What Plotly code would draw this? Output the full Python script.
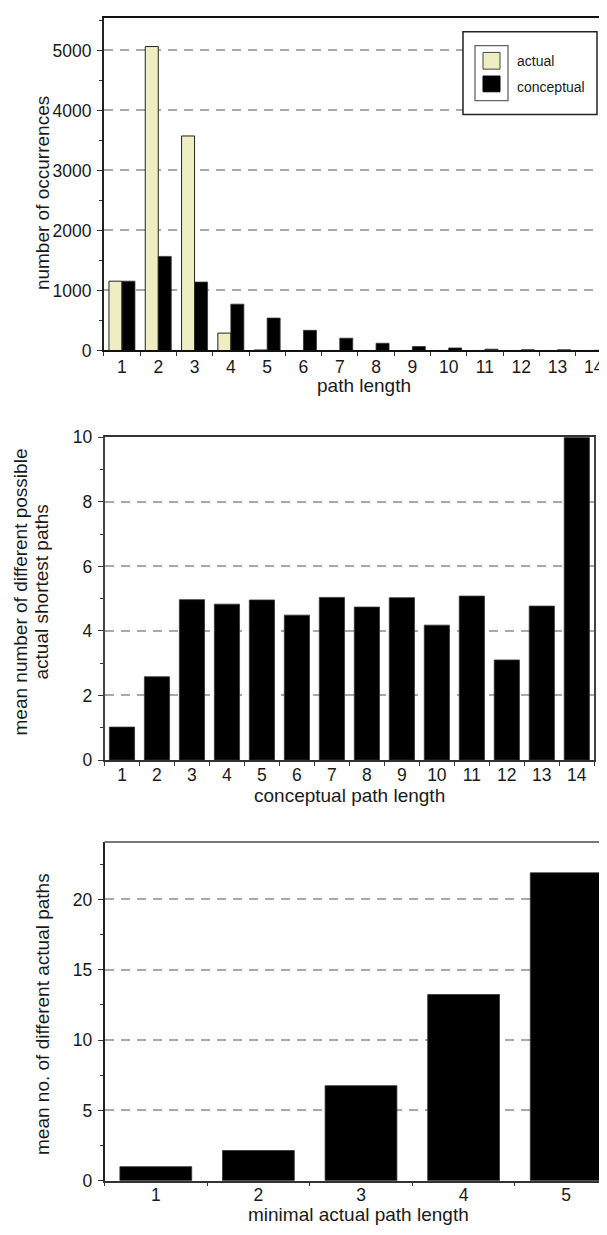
import plotly.graph_objects as go

# The page body keeps its default 8px margin, so the figure is drawn 8px
# smaller and every reference-pixel position is shifted by that offset.
SCREEN_W, SCREEN_H = 607, 1235
OFF = 8
W, H = SCREEN_W - OFF, SCREEN_H - OFF

# ---------------- data ----------------
# Panel 1: number of occurrences by path length
path_length = list(range(1, 15))
actual = [1155, 5065, 3575, 290, 8, 0, 0, 0, 0, 0, 0, 0, 0, 0]
conceptual = [1155, 1568, 1140, 772, 540, 336, 205, 120, 66, 42, 22, 14, 12, 3]

# Panel 2: mean number of different possible actual shortest paths
concept_length = list(range(1, 15))
mean_shortest = [1.02, 2.58, 4.97, 4.83, 4.96, 4.49, 5.04, 4.74, 5.03, 4.18, 5.08, 3.10, 4.77, 10.0]

# Panel 3: mean no. of different actual paths
minimal_length = [1, 2, 3, 4, 5]
mean_paths = [1.0, 2.15, 6.76, 13.24, 21.89]


# ---------------- helpers ----------------
def px(x):
    return min(max((x - OFF) / W, 0), 1)


def py(y):
    return min(max(1 - (y - OFF) / H, 0), 1)


FONT = "Liberation Sans, Arial, Helvetica, sans-serif"
TXT = "#1a1a1a"
GRID = "#a8a8a8"
TICKF = dict(family=FONT, size=17.5, color=TXT)
TITLEF = dict(family=FONT, size=19, color=TXT)
YELLOW = "#eeeec2"

fig = go.Figure()

fig.add_trace(go.Bar(x=path_length, y=actual, name="actual",
                     marker=dict(color=YELLOW, line=dict(color="#222", width=1)),
                     xaxis="x", yaxis="y", showlegend=False))
fig.add_trace(go.Bar(x=path_length, y=conceptual, name="conceptual",
                     marker=dict(color="#000000", line=dict(color="#333", width=0.8)),
                     xaxis="x", yaxis="y", showlegend=False))
fig.add_trace(go.Bar(x=concept_length, y=mean_shortest,
                     marker=dict(color="#000000", line=dict(color="#333", width=0.8)),
                     xaxis="x2", yaxis="y2", showlegend=False, width=0.72))
fig.add_trace(go.Bar(x=minimal_length, y=mean_paths,
                     marker=dict(color="#000000", line=dict(color="#333", width=0.8)),
                     xaxis="x3", yaxis="y3", showlegend=False, width=0.70))

cat1 = 36.3
cat3 = 102.6
top1 = max(5.7, OFF)  # top frame of panel 1 (cannot go above the figure)


def xax(domain, rng, vals, mirror=False, linecolor="#222", standoff=0):
    return dict(domain=domain, range=rng, tickmode="array", tickvals=vals, ticktext=[str(v) for v in vals],
                ticks="", showline=True, linecolor=linecolor, linewidth=1.5, mirror=mirror,
                showgrid=False, zeroline=False, tickfont=TICKF, ticklabelstandoff=standoff,
                minor=dict(tickmode="array", tickvals=[k + 0.5 for k in range(0, max(vals) + 1)],
                           ticks="outside", ticklen=4, tickcolor="#333", tickwidth=1.2, showgrid=False))


def yax(domain, rng, dtick, mdtick, mirror=False, linecolor="#222"):
    return dict(domain=domain, range=rng, dtick=dtick, tick0=0, ticks="outside", ticklen=5, tickwidth=1.2,
                tickcolor="#333", showline=True, linecolor=linecolor, linewidth=1.5, mirror=mirror,
                showgrid=True, gridcolor=GRID, gridwidth=1.6, griddash="9px,7px", zeroline=False,
                tickfont=TICKF, ticklabelstandoff=2,
                minor=dict(dtick=mdtick, tick0=0, ticks="outside", ticklen=3, tickcolor="#333", tickwidth=1.2,
                           showgrid=False))


fig.update_layout(
    width=W, height=H, margin=dict(l=0, r=0, t=0, b=0),
    paper_bgcolor="white", plot_bgcolor="white",
    barmode="group", bargap=0.284, bargroupgap=0,
    xaxis=dict(xax([px(103.8), 1], [0.5, 0.5 + (SCREEN_W - 103.8) / cat1], path_length,
                   mirror=True, linecolor="#111"), anchor="y"),
    yaxis=dict(yax([py(346), py(top1)], [0, (346 - top1) / 61 * 1000], 1000, 500), anchor="x"),
    xaxis2=dict(xax([px(104.5), px(594.3)], [0.5, 14.5], concept_length, mirror=True, linecolor="#333",
                    standoff=-2), anchor="y2"),
    yaxis2=dict(yax([py(762.3), py(434.3)], [0, 10], 2, 1, mirror=True, linecolor="#444"), anchor="x2"),
    xaxis3=dict(xax([px(104.5), 1], [0.5, 0.5 + (SCREEN_W - 104.5) / cat3], minimal_length, linecolor="#333",
                    standoff=-2), anchor="y3"),
    yaxis3=dict(yax([py(1190), py(845.7)], [0, (1190 - 845.7) / 14.3], 5, 2.5), anchor="x3"),
)

shapes = [
    # top border of bottom panel
    dict(type="line", xref="paper", yref="paper", x0=px(104.5), x1=1, y0=py(845.7), y1=py(845.7),
         line=dict(color="#777", width=2)),
    # legend outer box
    dict(type="rect", xref="paper", yref="paper", x0=px(463), x1=px(597), y0=py(106), y1=py(22),
         line=dict(color="#222", width=1.5), fillcolor="white"),
    # legend inner box
    dict(type="rect", xref="paper", yref="paper", x0=px(475), x1=px(508), y0=py(92), y1=py(36),
         line=dict(color="#666", width=1.3), fillcolor="white"),
    dict(type="rect", xref="paper", yref="paper", x0=px(483), x1=px(500), y0=py(60), y1=py(43),
         line=dict(color="#444", width=1), fillcolor=YELLOW),
    dict(type="rect", xref="paper", yref="paper", x0=px(483), x1=px(500), y0=py(83), y1=py(67),
         line=dict(color="#000", width=1), fillcolor="#000"),
]
fig.update_layout(shapes=shapes)

ann = [
    dict(text="actual", x=px(515), y=py(52), xanchor="left", font=dict(family=FONT, size=14, color=TXT)),
    dict(text="conceptual", x=px(515), y=py(78), xanchor="left", font=dict(family=FONT, size=14, color=TXT)),
    dict(text="number of occurrences", x=px(42), y=py(186), textangle=-90, font=TITLEF),
    dict(text="path length", x=px(364), y=py(382), font=TITLEF),
    dict(text="mean number of different possible", x=px(20), y=py(592), textangle=-90, font=TITLEF),
    dict(text="actual shortest paths", x=px(41), y=py(592), textangle=-90, font=TITLEF),
    dict(text="conceptual path length", x=px(349.5), y=py(798), font=TITLEF),
    dict(text="mean no. of different actual paths", x=px(42.5), y=py(1021), textangle=-90, font=TITLEF),
    dict(text="minimal actual path length", x=px(358), y=py(1224), font=TITLEF),
]
for a in ann:
    a.update(xref="paper", yref="paper", showarrow=False)
    a.setdefault("xanchor", "center")
    a.setdefault("yanchor", "middle")
fig.update_layout(annotations=ann)

fig.write_html("out.html")
